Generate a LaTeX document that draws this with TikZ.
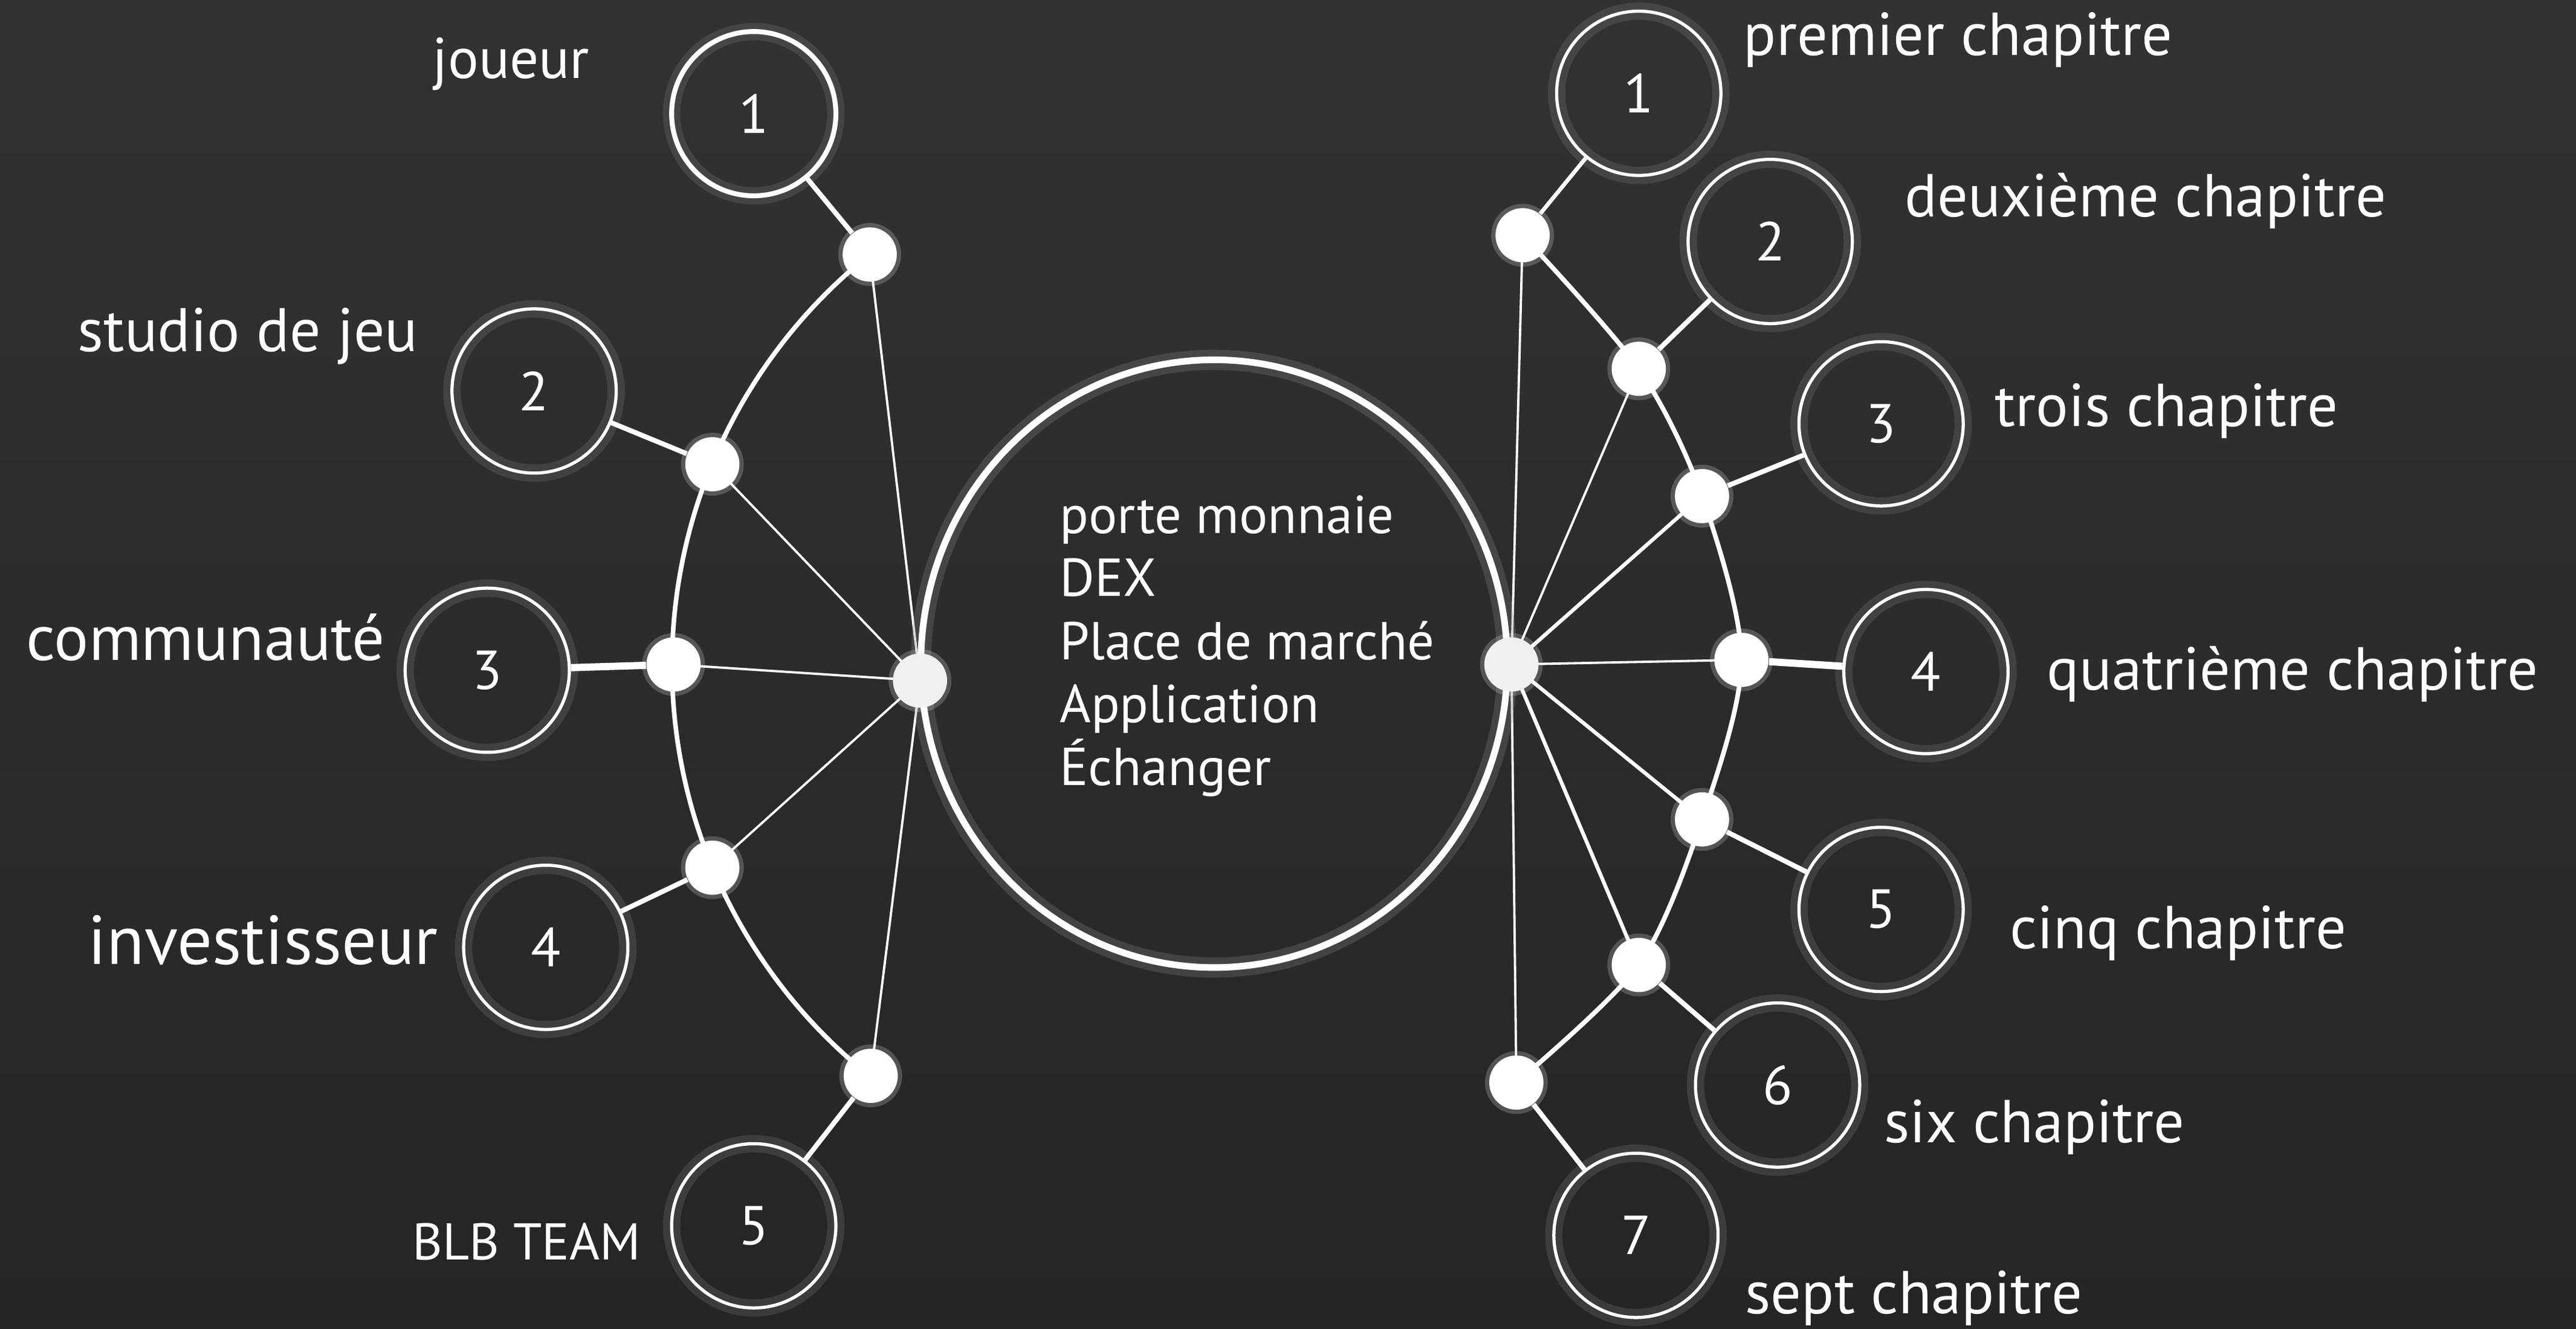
\documentclass[tikz,border=0pt]{standalone}
\usepackage{fontspec}
\setmainfont{PT Sans}
\usetikzlibrary{shapes.geometric}
\pgfdeclarelayer{background}
\pgfsetlayers{background,main}
\definecolor{bgtop}{RGB}{50,50,50}
\definecolor{bgbot}{RGB}{37,37,37}
\tikzset{
  dot/.style={circle, fill=white, minimum size=0.66cm, inner sep=0pt,
    preaction={draw=white, line width=3pt, opacity=0.2}},
  ring/.style={circle, draw=white, line width=1.1pt, minimum size=2cm, inner sep=0pt,
    text=white, font=\fontsize{19}{19}\selectfont,
    preaction={draw=gray, line width=6pt, opacity=0.25}},
  spoke/.style={white, line width=1.7pt},
  hubline/.style={white, line width=0.8pt},
  arcline/.style={white, line width=1.6pt},
  lbl/.style={anchor=base west, inner sep=0pt, text=white, font=\fontsize{21}{21}\selectfont}
}

\begin{document}
\begin{tikzpicture}[x=0.02cm, y=0.02cm]
    % background
    \begin{pgfonlayer}{background}
        \shade[top color=bgtop, bottom color=bgbot] (0,0) rectangle (1568,809);
    \end{pgfonlayer}
    \useasboundingbox (0,0) rectangle (1568,809);

    % central ring
    \node[ellipse, draw=white, line width=2.3pt, minimum width=7.14cm, minimum height=7.4cm,
      preaction={draw=gray, line width=7pt, opacity=0.3}] (wallet) at (739,405) {};
    \node[anchor=base west, align=left, inner sep=0pt, text=white,
      font=\fontsize{18.5}{21.8}\selectfont] (menu) at (644.7,331)
      {porte monnaie\\DEX\\Place de marché\\Application\\Échanger};

    % hubs on the ring
    \node[dot, fill=white!88!gray] (lh) at (560,394.7) {};
    \node[dot, fill=white!88!gray] (rh) at (920,404.5) {};

    % left side
    \node[dot] (l1) at (529.4,654.1) {};
    \node[dot] (l2) at (433.6,526.4) {};
    \node[dot] (l3) at (410,404.5) {};
    \node[dot] (l4) at (433.6,280.8) {};
    \node[dot] (l5) at (530,154.1) {};

    \node[ring, line width=1.7pt] (lc1) at (458.8,739.8) {1};
    \node[ring] (lc2) at (325.1,571) {2};
    \node[ring] (lc3) at (296.6,401) {3};
    \node[ring] (lc4) at (332.2,232.3) {4};
    \node[ring] (lc5) at (458.8,62.8) {5};

    \node[lbl, font=\fontsize{19.9}{19.9}\selectfont] (joueur) at (263,761.2) {joueur};
    \node[lbl, font=\fontsize{21.3}{21.3}\selectfont] (studio) at (47,595) {studio de jeu};
    \node[lbl, font=\fontsize{22.4}{22.4}\selectfont] (commu) at (15.8,407) {communauté};
    \node[lbl, font=\fontsize{24}{24}\selectfont] (invest) at (53.3,222.1) {investisseur};
    \node[lbl, font=\fontsize{17.9}{17.9}\selectfont] (team) at (250.8,42.2) {BLB TEAM};

    % right side
    \node[dot] (r1) at (926.8,665.8) {};
    \node[dot] (r2) at (997.5,584.5) {};
    \node[dot] (r3) at (1036,507) {};
    \node[dot] (r4) at (1060,407.3) {};
    \node[dot] (r5) at (1036,310.2) {};
    \node[dot] (r6) at (997.5,221.6) {};
    \node[dot] (r7) at (923,150) {};

    \node[ring] (rc1) at (997.5,752.2) {1};
    \node[ring] (rc2) at (1077.5,662) {2};
    \node[ring] (rc3) at (1145,551) {3};
    \node[ring] (rc4) at (1172.3,400.2) {4};
    \node[ring] (rc5) at (1145,255.4) {5};
    \node[ring] (rc6) at (1082,148.5) {6};
    \node[ring] (rc7) at (995.8,57) {7};

    \node[lbl] (ch1) at (1061,775.4) {premier chapitre};
    \node[lbl] (ch2) at (1159,677) {deuxième chapitre};
    \node[lbl] (ch3) at (1214,549.6) {trois chapitre};
    \node[lbl] (ch4) at (1245.6,389) {quatrième chapitre};
    \node[lbl] (ch5) at (1223,231.5) {cinq chapitre};
    \node[lbl] (ch6) at (1146.4,113.4) {six chapitre};
    \node[lbl] (ch7) at (1062,9.3) {sept chapitre};

    % arcs and hub lines behind the dots
    \begin{pgfonlayer}{background}
        \draw[arcline] (l1.center) arc[start angle=128.6, end angle=231.4, radius=320];
        \draw[arcline] plot[smooth] coordinates {(r1.center) (r2.center) (r3.center) (r4.center) (r5.center) (r6.center) (r7.center)};
        \foreach \n in {l1,l2,l3,l4,l5}
            \draw[hubline] (lh.center) -- (\n.center);
        \foreach \n in {r1,r2,r4,r7}
            \draw[hubline] (rh.center) -- (\n.center);
        \foreach \n in {r3,r5,r6}
            \draw[hubline, line width=1.3pt] (rh.center) -- (\n.center);
    \end{pgfonlayer}

    % spokes to the numbered rings
    \draw[spoke] (l1) -- (lc1);
    \draw[spoke] (l2) -- (lc2);
    \draw[spoke, line width=2.5pt] (l3) -- (lc3);
    \draw[spoke] (l4) -- (lc4);
    \draw[spoke] (l5) -- (lc5);
    \draw[spoke, line width=1.4pt] (r1) -- (rc1);
    \draw[spoke] (r2) -- (rc2);
    \draw[spoke] (r3) -- (rc3);
    \draw[spoke, line width=2.5pt] (r4) -- (rc4);
    \draw[spoke] (r5) -- (rc5);
    \draw[spoke] (r6) -- (rc6);
    \draw[spoke] (r7) -- (rc7);
\end{tikzpicture}
\end{document}
